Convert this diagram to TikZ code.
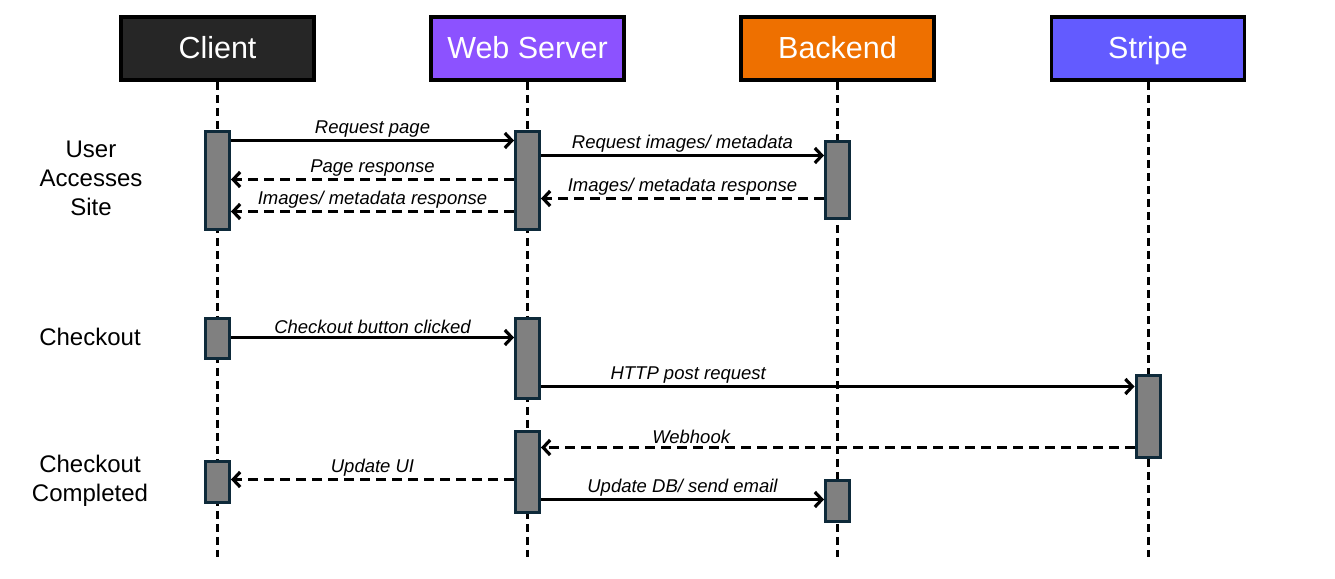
\documentclass[tikz,border=0pt]{standalone}
\usepackage{fontspec}
\setmainfont{Liberation Sans}
\usetikzlibrary{arrows.meta}
\definecolor{clientc}{RGB}{38,38,38}
\definecolor{webc}{RGB}{140,82,255}
\definecolor{backc}{RGB}{238,112,0}
\definecolor{stripec}{RGB}{99,91,255}
\definecolor{actborder}{RGB}{14,42,58}
\definecolor{actfill}{RGB}{128,128,128}
\tikzset{
  header/.style={draw=black, line width=3.5pt, minimum width=193pt, minimum height=63pt, text=white, font=\fontsize{30.5}{32}\selectfont, inner sep=0pt, text height=22pt, text depth=2pt},
  lifeline/.style={line width=3pt, dash pattern=on 8pt off 5pt},
  act/.style={draw=actborder, fill=actfill, line width=3pt, minimum width=24pt, inner sep=0pt},
  msg/.style={line width=3.2pt, -{Straight Barb[length=7pt,width=15pt,line width=3.2pt]}},
  reply/.style={msg, dash pattern=on 10pt off 6pt},
  lbl/.style={font=\fontsize{18.5}{20}\selectfont\itshape, inner sep=2.5pt, yshift=-0.5pt},
  side/.style={font=\fontsize{24}{29}\selectfont, align=center},
}
\begin{document}
\begin{tikzpicture}[x=1pt,y=-1pt]
\useasboundingbox (0,0) rectangle (1335,578);
% headers
\node[header, fill=clientc] (client) at (217.5,48.5) {Client};
\node[header, fill=webc] (web) at (527.5,48.5) {Web Server};
\node[header, fill=backc] (back) at (837.5,48.5) {Backend};
\node[header, fill=stripec] (stripe) at (1148,48.5) {Stripe};
% lifeline ends
\coordinate (clientend) at (217.5,557);
\coordinate (webend) at (527.5,557);
\coordinate (backend) at (837.5,557);
\coordinate (stripeend) at (1148,557);
\draw[lifeline] (client.south) -- (clientend);
\draw[lifeline] (web.south) -- (webend);
\draw[lifeline] (back.south) -- (backend);
\draw[lifeline] (stripe.south) -- (stripeend);
% activations
\node[act, minimum height=98pt] (c1) at (217.5,180) {};
\node[act, minimum height=98pt] (w1) at (527.5,180) {};
\node[act, minimum height=77pt] (b1) at (837.5,179.5) {};
\node[act, minimum height=40pt] (c2) at (217.5,338) {};
\node[act, minimum height=80pt] (w2) at (527.5,358) {};
\node[act, minimum height=82pt] (s1) at (1148,416) {};
\node[act, minimum height=81pt] (w3) at (527.5,471.5) {};
\node[act, minimum height=41pt] (c3) at (217.5,481.5) {};
\node[act, minimum height=41pt] (b2) at (837.5,500.5) {};
% messages
\draw[msg] ([yshift=-11pt]c1.north east) -- node[lbl, above] {Request page} ([yshift=-11pt]w1.north west);
\draw[reply] ([yshift=-50pt]w1.north west) -- node[lbl, above] {Page response} ([yshift=-50pt]c1.north east);
\draw[reply] ([yshift=-82pt]w1.north west) -- node[lbl, above] {Images/ metadata response} ([yshift=-82pt]c1.north east);
\draw[msg] ([yshift=-26pt]w1.north east) -- node[lbl, above] {Request images/ metadata} ([yshift=-16pt]b1.north west);
\draw[reply] ([yshift=-59pt]b1.north west) -- node[lbl, above] {Images/ metadata response} ([yshift=-69pt]w1.north east);
\draw[msg] ([yshift=-21pt]c2.north east) -- node[lbl, above] {Checkout button clicked} ([yshift=-21pt]w2.north west);
\draw[msg] ([yshift=-70pt]w2.north east) -- node[lbl, above, pos=0.248] {HTTP post request} ([yshift=-13pt]s1.north west);
\draw[reply] ([yshift=-74pt]s1.north west) -- node[lbl, above, pos=0.747] {Webhook} ([yshift=-18pt]w3.north east);
\draw[reply] ([yshift=-50pt]w3.north west) -- node[lbl, above] {Update UI} ([yshift=-20pt]c3.north east);
\draw[msg] ([yshift=-70pt]w3.north east) -- node[lbl, above] {Update DB/ send email} ([yshift=-21pt]b2.north west);
% side labels
\node[side] (s-user) at (91,178) {User\\Accesses\\Site};
\node[side] (s-check) at (90,337) {Checkout};
\node[side] (s-done) at (90,481) {Checkout\\Completed};
\end{tikzpicture}
\end{document}
